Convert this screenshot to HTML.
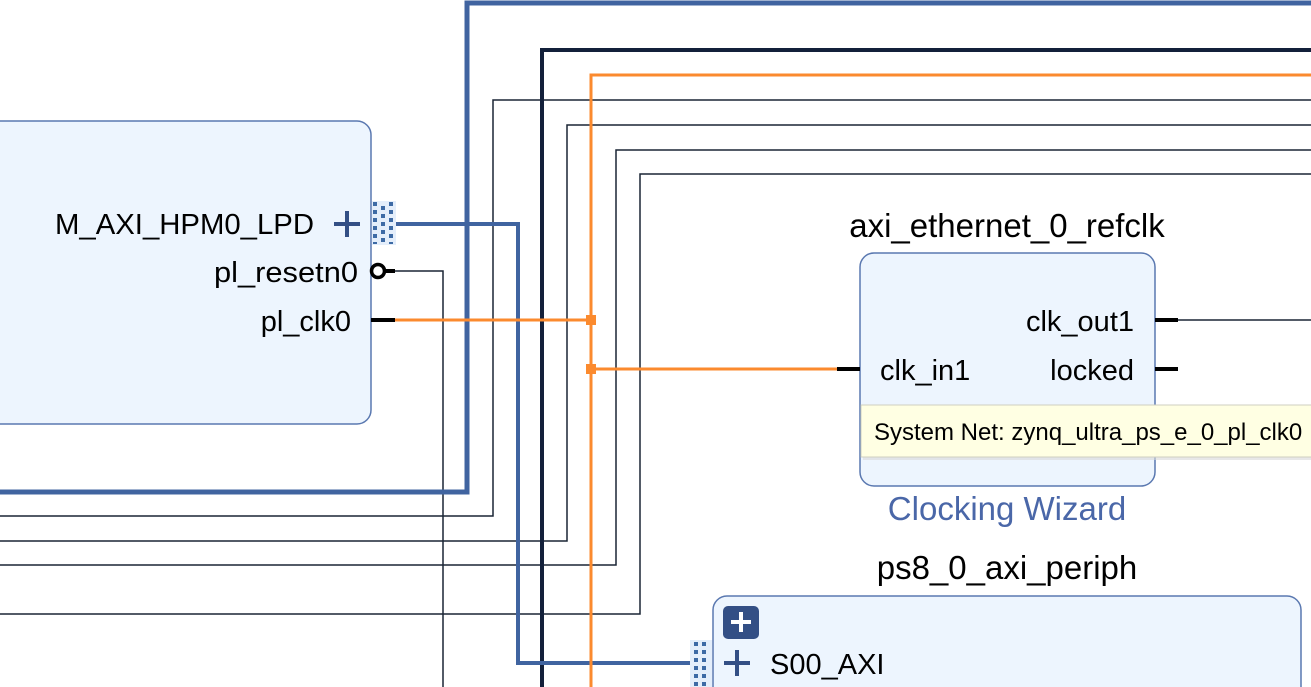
<!DOCTYPE html>
<html><head><meta charset="utf-8"><style>
html,body{margin:0;padding:0;background:#fff;}
svg{display:block;font-family:"Liberation Sans",Arial,sans-serif;}
</style></head><body>
<svg width="1311" height="687" viewBox="0 0 1311 687" xmlns="http://www.w3.org/2000/svg">
<rect width="1311" height="687" fill="#fff"/>
<rect x="-20" y="121" width="391" height="303" rx="14" fill="#edf5fe" stroke="#5a78b0" stroke-width="1.5"/>
<rect x="860" y="253" width="295" height="233" rx="14" fill="#edf5fe" stroke="#5a78b0" stroke-width="1.5"/>
<rect x="713" y="596" width="588" height="120" rx="14" fill="#edf5fe" stroke="#5a78b0" stroke-width="1.5"/>
<g fill="none" stroke="#1a2535" stroke-width="1.5">
<path d="M0 516 H493 V100 H1311"/>
<path d="M0 541 H567 V125 H1311"/>
<path d="M0 565 H616 V150 H1311"/>
<path d="M0 614 H640 V174 H1311"/>
<path d="M395 271 H443 V687"/>
<path d="M1178 320 H1311"/>
</g>
<path d="M0 492 H467 V3 H1311" fill="none" stroke="#4064a0" stroke-width="5"/>
<path d="M542 687 V50 H1311" fill="none" stroke="#13203a" stroke-width="4"/>
<path d="M395 224 H518 V663 H692" fill="none" stroke="#4064a0" stroke-width="4"/>
<g fill="none" stroke="#fb8a2e" stroke-width="3">
<path d="M591 687 V75 H1311"/>
<path d="M395 320 H591"/>
<path d="M591 369 H837"/>
</g>
<rect x="586" y="315" width="10" height="10" fill="#fb8a2e"/>
<rect x="586" y="364" width="10" height="10" fill="#fb8a2e"/>
<g stroke="#000" stroke-width="4">
<path d="M371 320 H395"/>
<path d="M837 369 H860"/>
<path d="M1155 320 H1178"/>
<path d="M1155 369 H1178"/>
<path d="M385 271 H395"/>
</g>
<circle cx="378" cy="271" r="6.5" fill="#fff" stroke="#000" stroke-width="3.5"/>
<g fill="#3d6aa5">
<rect x="372" y="201" width="24" height="44" fill="#e4eefb"/>
<rect x="373" y="202" width="4" height="4"/><rect x="373" y="210" width="4" height="4"/><rect x="373" y="218" width="4" height="4"/><rect x="373" y="226" width="4" height="4"/><rect x="373" y="234" width="4" height="4"/><rect x="373" y="242" width="4" height="2"/>
<rect x="381" y="206" width="4" height="4"/><rect x="381" y="214" width="4" height="4"/><rect x="381" y="222" width="4" height="4"/><rect x="381" y="230" width="4" height="4"/><rect x="381" y="238" width="4" height="4"/>
<rect x="389" y="202" width="4" height="4"/><rect x="389" y="210" width="4" height="4"/><rect x="389" y="218" width="4" height="4"/><rect x="389" y="226" width="4" height="4"/><rect x="389" y="234" width="4" height="4"/><rect x="389" y="242" width="4" height="2"/>
<rect x="690" y="640" width="22" height="47" fill="#e4eefb"/>
<rect x="694" y="642" width="4" height="4"/><rect x="694" y="650" width="4" height="4"/><rect x="694" y="658" width="4" height="4"/><rect x="694" y="666" width="4" height="4"/><rect x="694" y="674" width="4" height="4"/><rect x="694" y="682" width="4" height="4"/>
<rect x="702" y="642" width="4" height="4"/><rect x="702" y="650" width="4" height="4"/><rect x="702" y="658" width="4" height="4"/><rect x="702" y="666" width="4" height="4"/><rect x="702" y="674" width="4" height="4"/><rect x="702" y="682" width="4" height="4"/>
</g>
<g stroke="#334f85" stroke-width="4">
<path d="M334 224 H360 M347 211 V237"/>
<path d="M724 663 H750 M737 650 V676"/>
</g>
<rect x="723" y="606" width="36" height="33" rx="5" fill="#334f85"/>
<path d="M731 622 H751 M741 612 V632" stroke="#fff" stroke-width="4"/>
<g font-size="29" fill="#000">
<text x="314" y="234" text-anchor="end" textLength="259" lengthAdjust="spacingAndGlyphs">M_AXI_HPM0_LPD</text>
<text x="358" y="282" text-anchor="end" textLength="144" lengthAdjust="spacingAndGlyphs">pl_resetn0</text>
<text x="351" y="331" text-anchor="end">pl_clk0</text>
<text x="1007" y="237" text-anchor="middle" font-size="33">axi_ethernet_0_refclk</text>
<text x="1134" y="331" text-anchor="end">clk_out1</text>
<text x="1134" y="380" text-anchor="end">locked</text>
<text x="880" y="380">clk_in1</text>
<text x="1007" y="579" text-anchor="middle" font-size="33">ps8_0_axi_periph</text>
<text x="770" y="674">S00_AXI</text>
</g>
<text x="1007" y="520" text-anchor="middle" font-size="33" fill="#4a67a8">Clocking Wizard</text>
<rect x="863" y="408" width="460" height="52" fill="#d8d8d8" opacity="0.6"/>
<rect x="861" y="405" width="460" height="52" fill="#ffffe3" stroke="#cfcfc0" stroke-width="1"/>
<text x="874" y="440" font-size="24" fill="#000">System Net: zynq_ultra_ps_e_0_pl_clk0</text>
</svg>
</body></html>
